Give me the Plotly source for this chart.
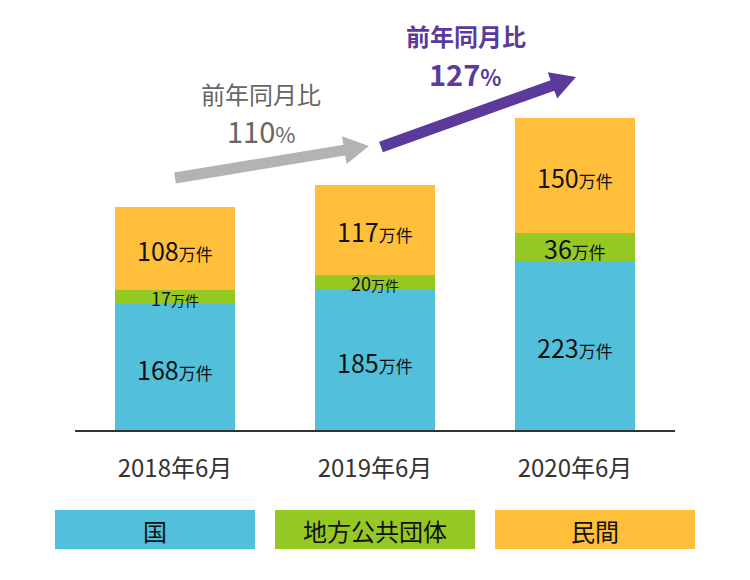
import plotly.graph_objects as go
import math

categories = ["2018年6月", "2019年6月", "2020年6月"]
series_names = ["国", "地方公共団体", "民間"]
kuni = [168, 185, 223]
chiho = [17, 20, 36]
minkan = [108, 117, 150]
colors = ["#52C0DB", "#95C823", "#FFBF3B"]
unit = "万件"
yoy_labels = ["前年同月比", "前年同月比"]
yoy_values = ["110", "127"]

FONT = "Noto Sans CJK JP, Noto Sans, sans-serif"
W, H = 750, 580
L, R, T, B = 75, 75, 20, 148
PW, PH = W - L - R, H - T - B


def px(x):
    return (x - L) / PW


def py(y):
    return (H - B - y) / PH


fig = go.Figure()
series = [kuni, chiho, minkan]
for name, vals, col in zip(series_names, series, colors):
    fig.add_trace(go.Bar(x=categories, y=vals, name=name, marker=dict(color=col, line=dict(width=0)),
                         width=0.6, hoverinfo="skip"))

annotations = []
# segment labels
for i, cat in enumerate(categories):
    base = 0
    for s, vals in enumerate(series):
        v = vals[i]
        small = s == 1 and v < 30
        big = 18 if small else 25
        sm = 14 if small else 17
        annotations.append(dict(
            x=cat, y=base + v / 2, xref="x", yref="y", showarrow=False,
            xanchor="center", yanchor="middle",
            text=f"<span style='font-size:{big}px'>{v}</span><span style='font-size:{sm}px'>{unit}</span>",
            font=dict(family=FONT, color="#111111", size=big), yshift=-1))
        base += v


def arrow_path(x0, y0, x1, y1, sw=11, hw=28, hl=25):
    dx, dy = x1 - x0, y1 - y0
    d = math.hypot(dx, dy)
    ux, uy = dx / d, dy / d
    nx, ny = -uy, ux
    bx, by = x1 - ux * hl, y1 - uy * hl
    pts = [
        (x0 + nx * sw / 2, y0 + ny * sw / 2),
        (bx + nx * sw / 2, by + ny * sw / 2),
        (bx + nx * hw / 2, by + ny * hw / 2),
        (x1, y1),
        (bx - nx * hw / 2, by - ny * hw / 2),
        (bx - nx * sw / 2, by - ny * sw / 2),
        (x0 - nx * sw / 2, y0 - ny * sw / 2),
    ]
    return "M " + " L ".join(f"{px(a):.5f},{py(b):.5f}" for a, b in pts) + " Z"


shapes = [
    dict(type="path", xref="paper", yref="paper", path=arrow_path(175, 178, 369, 146),
         fillcolor="#B3B3B3", line=dict(width=0)),
    dict(type="path", xref="paper", yref="paper", path=arrow_path(381, 147, 576, 77),
         fillcolor="#5B3A9B", line=dict(width=0)),
    dict(type="line", xref="paper", yref="y", x0=0, x1=1, y0=0, y1=0,
         line=dict(color="#333333", width=4)),
]

# yoy texts
annotations += [
    dict(x=px(261), y=py(93), xref="paper", yref="paper", showarrow=False, text=yoy_labels[0],
         xanchor="center", yanchor="middle",
         font=dict(family=FONT, size=24, color="#666666")),
    dict(x=px(261), y=py(130), xref="paper", yref="paper", showarrow=False,
         xanchor="center", yanchor="middle",
         text=f"<span style='font-size:29px'>{yoy_values[0]}</span><span style='font-size:22px'>%</span>",
         font=dict(family=FONT, size=29, color="#666666")),
    dict(x=px(466), y=py(36), xref="paper", yref="paper", showarrow=False, text=f"<b>{yoy_labels[1]}</b>",
         xanchor="center", yanchor="middle",
         font=dict(family=FONT, size=24, color="#5B3A9B")),
    dict(x=px(466), y=py(73), xref="paper", yref="paper", showarrow=False,
         xanchor="center", yanchor="middle",
         text=f"<b><span style='font-size:29px'>{yoy_values[1]}</span><span style='font-size:22px'>%</span></b>",
         font=dict(family=FONT, size=29, color="#5B3A9B")),
]

# legend boxes
for k, (name, col) in enumerate(zip(series_names, colors)):
    x0 = 55 + 220 * k
    shapes.append(dict(type="rect", xref="paper", yref="paper", x0=px(x0), x1=px(x0 + 200),
                       y0=py(549), y1=py(510), fillcolor=col, line=dict(width=0)))
    annotations.append(dict(x=px(x0 + 100), y=py(530), xref="paper", yref="paper", showarrow=False,
                            xanchor="center", yanchor="middle",
                            text=name, font=dict(family=FONT, size=24, color="#111111")))

fig.update_layout(
    width=W, height=H, barmode="stack", showlegend=False,
    margin=dict(l=L, r=R, t=T, b=B, pad=0),
    paper_bgcolor="white", plot_bgcolor="white",
    shapes=shapes, annotations=annotations, bargap=0.4,
    xaxis=dict(range=[-0.5, 2.5], showgrid=False, zeroline=False, showline=False, ticks="",
               tickfont=dict(family=FONT, size=24, color="#333333"), ticklabelstandoff=20),
    yaxis=dict(range=[0, PH / 0.767], showgrid=False, zeroline=False, showline=False,
               showticklabels=False, ticks=""),
)

fig.write_html("out.html")
